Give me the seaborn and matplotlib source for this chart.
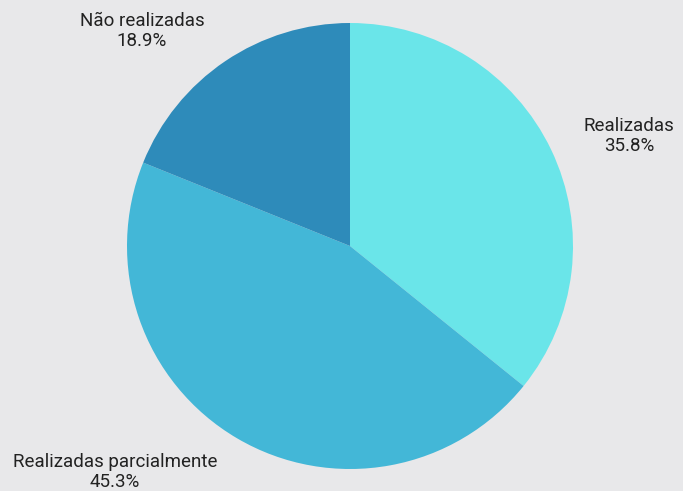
import matplotlib
matplotlib.use("Agg")
import matplotlib.pyplot as plt
import seaborn as sns

categories = ["Realizadas", "Realizadas parcialmente", "Não realizadas"]
values = [35.8, 45.3, 18.9]
colors = ["#6ae5e9", "#43b7d7", "#2e8bba"]

sns.set_theme(style="white")
plt.rcParams['font.family'] = ['Roboto', 'DejaVu Sans']

bg = "#e8e8ea"
fig = plt.figure(figsize=(6.83, 4.91), dpi=100, facecolor=bg)
W, H = 683, 491
cx, cy, r = 350, 246, 223
ax = fig.add_axes([(cx - r) / W, (H - cy - r) / H, 2 * r / W, 2 * r / H])
ax.set_facecolor(bg)

ax.pie(values, colors=colors, startangle=90, counterclock=False,
       wedgeprops=dict(linewidth=0), radius=1)
ax.set_xlim(-1, 1)
ax.set_ylim(-1, 1)
ax.set_aspect('equal')
ax.axis('off')

label_pos = {
    "Realizadas": (629, 136),
    "Realizadas parcialmente": (115, 472),
    "Não realizadas": (142, 31),
}
for cat, v in zip(categories, values):
    px, py = label_pos[cat]
    fig.text(px / W, 1 - py / H, f"{cat}\n{v:.1f}%", ha="center", va="center",
             fontsize=13.5, color="#222222", linespacing=1.15)

fig.savefig("out.png", dpi=100, facecolor=bg)
